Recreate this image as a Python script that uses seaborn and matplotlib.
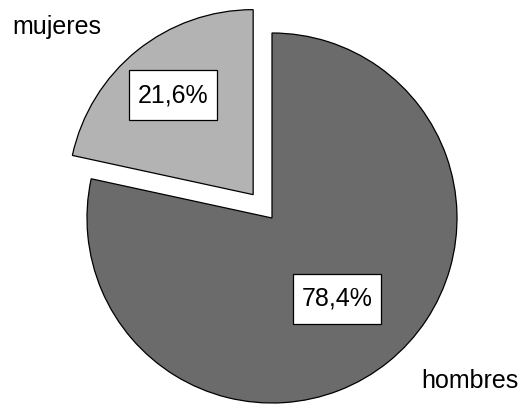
import numpy as np
import matplotlib
matplotlib.use("Agg")
import matplotlib.pyplot as plt
from matplotlib.patches import Rectangle
import seaborn as sns

# Distribution by sex
categories = ["mujeres", "hombres"]
shares = [21.6, 78.4]
pct_labels = ["21,6%", "78,4%"]

sns.set_theme(style="white")
plt.rcParams["font.family"] = ["Liberation Sans", "DejaVu Sans"]

W, H = 520, 407
fig = plt.figure(figsize=(W / 100, H / 100), dpi=100)
ax = fig.add_axes([0, 0, 1, 1])

colors = ["#b3b3b3", "#6b6b6b"]
center = (272, H - 218)
radius = 185
# explode offsets are in data units here (the axes is in pixel units)
explode = [30, 0]

wedges, _ = ax.pie(
    shares,
    colors=colors,
    explode=explode,
    startangle=90,
    counterclock=True,
    center=center,
    radius=radius,
    frame=True,
    wedgeprops=dict(edgecolor="black", linewidth=0.9),
)

# Percentage boxes placed along each wedge's bisector
label_dist = [0.69, 0.56]
box_w, box_h = 88, 50
for w, txt, d in zip(wedges, pct_labels, label_dist):
    mid = np.deg2rad((w.theta1 + w.theta2) / 2)
    cx, cy = w.center
    tx = cx + d * radius * np.cos(mid)
    ty = cy + d * radius * np.sin(mid)
    ax.add_patch(Rectangle((tx - box_w / 2, ty - box_h / 2), box_w, box_h,
                           facecolor="white", edgecolor="black",
                           linewidth=0.9, zorder=3))
    ax.text(tx, ty, txt, ha="center", va="center", fontsize=18,
            color="black", zorder=4)

ax.text(12, H - 34, categories[0], ha="left", va="baseline", fontsize=18, color="black")
ax.text(421, H - 388, categories[1], ha="left", va="baseline", fontsize=18, color="black")

ax.set_xlim(0, W)
ax.set_ylim(0, H)
ax.set_aspect("equal")
ax.axis("off")

fig.savefig("out.png", dpi=100, facecolor="white")
